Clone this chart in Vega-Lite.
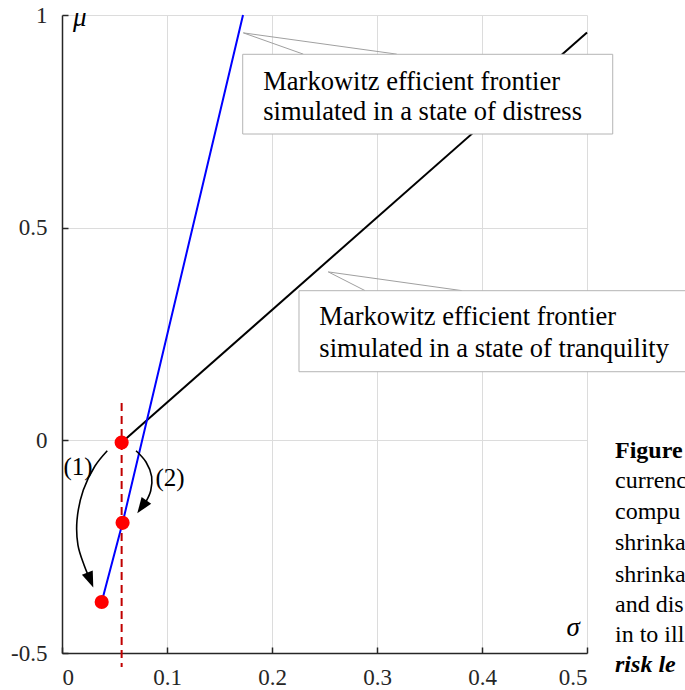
{
  "$schema": "https://vega.github.io/schema/vega-lite/v6.json",
  "width": 525,
  "height": 638,
  "autosize": "none",
  "padding": {"left": 62, "top": 15, "right": 98, "bottom": 37},
  "background": "white",
  "config": {
    "view": {"stroke": null},
    "font": "Liberation Serif",
    "axis": {
      "labelFont": "Liberation Serif",
      "labelFontSize": 23,
      "labelColor": "#262626",
      "domainColor": "#262626",
      "domainWidth": 1.5,
      "tickColor": "#262626",
      "tickWidth": 1.5,
      "tickSize": -6,
      "gridColor": "#dcdcdc",
      "gridWidth": 1,
      "title": null
    }
  },
  "datasets": {
    "frontier": [
      {"state": "tranquility", "i": 0, "sigma": 0.0568, "mu": -0.005},
      {"state": "tranquility", "i": 1, "sigma": 0.5, "mu": 0.959},
      {"state": "distress", "i": 0, "sigma": 0.0378, "mu": -0.38},
      {"state": "distress", "i": 1, "sigma": 0.0577, "mu": -0.194},
      {"state": "distress", "i": 2, "sigma": 0.1724, "mu": 1.0}
    ],
    "callout": [
      {"box": "distress", "i": 0, "sigma": 0.2298, "mu": 0.908},
      {"box": "distress", "i": 1, "sigma": 0.1727, "mu": 0.958},
      {"box": "distress", "i": 2, "sigma": 0.3188, "mu": 0.908},
      {"box": "tranquility", "i": 0, "sigma": 0.2886, "mu": 0.352},
      {"box": "tranquility", "i": 1, "sigma": 0.2536, "mu": 0.396},
      {"box": "tranquility", "i": 2, "sigma": 0.3807, "mu": 0.352}
    ],
    "boxes": [
      {"box": "distress", "s1": 0.1721, "s2": 0.5245, "m1": 0.9076, "m2": 0.7202},
      {"box": "tranquility", "s1": 0.2257, "s2": 0.62, "m1": 0.3518, "m2": 0.1613}
    ],
    "boxtext": [
      {"sigma": 0.1917, "mu": 0.8237, "text": "Markowitz efficient frontier"},
      {"sigma": 0.1917, "mu": 0.7543, "text": "simulated in a state of distress"},
      {"sigma": 0.2451, "mu": 0.2711, "text": "Markowitz efficient frontier"},
      {"sigma": 0.2451, "mu": 0.1966, "text": "simulated in a state of tranquility"}
    ],
    "vline": [
      {"sigma": 0.0568, "mu": 0.0877},
      {"sigma": 0.0568, "mu": -0.533}
    ],
    "arrows": [
      {"arrow": "1", "i": 0, "sigma": 0.0431, "mu": -0.0245},
      {"arrow": "1", "i": 1, "sigma": 0.0314, "mu": -0.0604},
      {"arrow": "1", "i": 2, "sigma": 0.0203, "mu": -0.1169},
      {"arrow": "1", "i": 3, "sigma": 0.0143, "mu": -0.1874},
      {"arrow": "1", "i": 4, "sigma": 0.0152, "mu": -0.2462},
      {"arrow": "1", "i": 5, "sigma": 0.021, "mu": -0.2932},
      {"arrow": "1", "i": 6, "sigma": 0.0248, "mu": -0.3167},
      {"arrow": "2", "i": 0, "sigma": 0.0705, "mu": -0.0245},
      {"arrow": "2", "i": 1, "sigma": 0.08, "mu": -0.051},
      {"arrow": "2", "i": 2, "sigma": 0.0854, "mu": -0.0856},
      {"arrow": "2", "i": 3, "sigma": 0.0845, "mu": -0.1185},
      {"arrow": "2", "i": 4, "sigma": 0.08, "mu": -0.1443},
      {"arrow": "2", "i": 5, "sigma": 0.0771, "mu": -0.1556}
    ],
    "heads": [
      {"arrow": "1", "sigma": 0.0264, "mu": -0.325, "dir": -22},
      {"arrow": "2", "sigma": 0.0769, "mu": -0.1533, "dir": 35}
    ],
    "points": [
      {"sigma": 0.0568, "mu": -0.005},
      {"sigma": 0.0577, "mu": -0.194},
      {"sigma": 0.0378, "mu": -0.38}
    ],
    "labels": [
      {"sigma": 0.0152, "mu": -0.0628, "text": "(1)"},
      {"sigma": 0.1029, "mu": -0.0887, "text": "(2)"}
    ],
    "axislabels": [
      {"sigma": 0.017, "mu": 0.992, "text": "μ"},
      {"sigma": 0.4867, "mu": -0.441, "text": "σ"}
    ],
    "doc": [
      {"kind": "bold", "sigma": 0.5267, "mu": -0.0409, "text": "Figure"},
      {"kind": "plain", "sigma": 0.5267, "mu": -0.1129, "text": "currenc"},
      {"kind": "plain", "sigma": 0.5267, "mu": -0.1858, "text": "compu"},
      {"kind": "plain", "sigma": 0.5267, "mu": -0.2579, "text": "shrinka"},
      {"kind": "plain", "sigma": 0.5267, "mu": -0.3339, "text": "shrinka"},
      {"kind": "plain", "sigma": 0.5267, "mu": -0.403, "text": "and dis"},
      {"kind": "plain", "sigma": 0.5267, "mu": -0.4736, "text": "in to ill"},
      {"kind": "bolditalic", "sigma": 0.5267, "mu": -0.5441, "text": "risk le"}
    ]
  },
  "encoding": {
    "x": {
      "field": "sigma", "type": "quantitative",
      "scale": {"domain": [0, 0.5], "nice": false, "zero": false},
      "axis": {"values": [0, 0.1, 0.2, 0.3, 0.4, 0.5], "labelExpr": "'' + datum.value", "labelPadding": 19, "grid": true}
    },
    "y": {
      "field": "mu", "type": "quantitative",
      "scale": {"domain": [-0.5, 1], "nice": false, "zero": false},
      "axis": {"values": [-0.5, 0, 0.5, 1], "labelExpr": "'' + datum.value", "labelPadding": 21, "grid": true}
    }
  },
  "layer": [
    {
      "data": {"name": "frontier"},
      "mark": {"type": "line", "strokeWidth": 2},
      "encoding": {
        "order": {"field": "i"},
        "detail": {"field": "state"},
        "color": {"field": "state", "type": "nominal", "scale": {"domain": ["tranquility", "distress"], "range": ["#000000", "#0000ff"]}, "legend": null}
      }
    },
    {
      "data": {"name": "callout"},
      "mark": {"type": "line", "strokeWidth": 1, "color": "#a0a0a0"},
      "encoding": {"order": {"field": "i"}, "detail": {"field": "box"}}
    },
    {
      "data": {"name": "boxes"},
      "mark": {"type": "rect", "fill": "white", "stroke": "#b4b4b4", "strokeWidth": 1},
      "encoding": {
        "x": {"field": "s1", "type": "quantitative"},
        "x2": {"field": "s2"},
        "y": {"field": "m1", "type": "quantitative"},
        "y2": {"field": "m2"}
      }
    },
    {
      "data": {"name": "boxtext"},
      "mark": {"type": "text", "align": "left", "baseline": "alphabetic", "fontSize": 26.5, "font": "Liberation Serif", "color": "#000000"},
      "encoding": {"text": {"field": "text"}}
    },
    {
      "data": {"name": "vline"},
      "mark": {"type": "line", "color": "#c00000", "strokeWidth": 2, "strokeDash": [8, 5]},
      "encoding": {}
    },
    {
      "data": {"name": "arrows"},
      "mark": {"type": "line", "color": "#000000", "strokeWidth": 1.6, "interpolate": "catmull-rom"},
      "encoding": {"order": {"field": "i"}, "detail": {"field": "arrow"}}
    },
    {
      "data": {"name": "heads"},
      "mark": {"type": "point", "shape": "M-0.55,-0.6L0.55,-0.6L0,0.9Z", "filled": true, "color": "#000000", "size": 450, "opacity": 1},
      "encoding": {"angle": {"field": "dir", "type": "quantitative", "scale": null}}
    },
    {
      "data": {"name": "points"},
      "mark": {"type": "circle", "color": "#ff0000", "size": 200, "opacity": 1}
    },
    {
      "data": {"name": "labels"},
      "mark": {"type": "text", "align": "center", "baseline": "middle", "fontSize": 25, "font": "Liberation Serif", "color": "#000000"},
      "encoding": {"text": {"field": "text"}}
    },
    {
      "data": {"name": "axislabels"},
      "mark": {"type": "text", "align": "center", "baseline": "middle", "fontSize": 27, "fontStyle": "italic", "font": "Liberation Serif", "color": "#000000"},
      "encoding": {"text": {"field": "text"}}
    },
    {
      "data": {"name": "doc"},
      "transform": [{"filter": "datum.kind == 'plain'"}],
      "mark": {"type": "text", "align": "left", "baseline": "alphabetic", "fontSize": 24, "font": "Liberation Serif", "color": "#000000"},
      "encoding": {"text": {"field": "text"}}
    },
    {
      "data": {"name": "doc"},
      "transform": [{"filter": "datum.kind == 'bold'"}],
      "mark": {"type": "text", "align": "left", "baseline": "alphabetic", "fontSize": 24, "fontWeight": "bold", "font": "Liberation Serif", "color": "#000000"},
      "encoding": {"text": {"field": "text"}}
    },
    {
      "data": {"name": "doc"},
      "transform": [{"filter": "datum.kind == 'bolditalic'"}],
      "mark": {"type": "text", "align": "left", "baseline": "alphabetic", "fontSize": 24, "fontWeight": "bold", "fontStyle": "italic", "font": "Liberation Serif", "color": "#000000"},
      "encoding": {"text": {"field": "text"}}
    }
  ]
}
